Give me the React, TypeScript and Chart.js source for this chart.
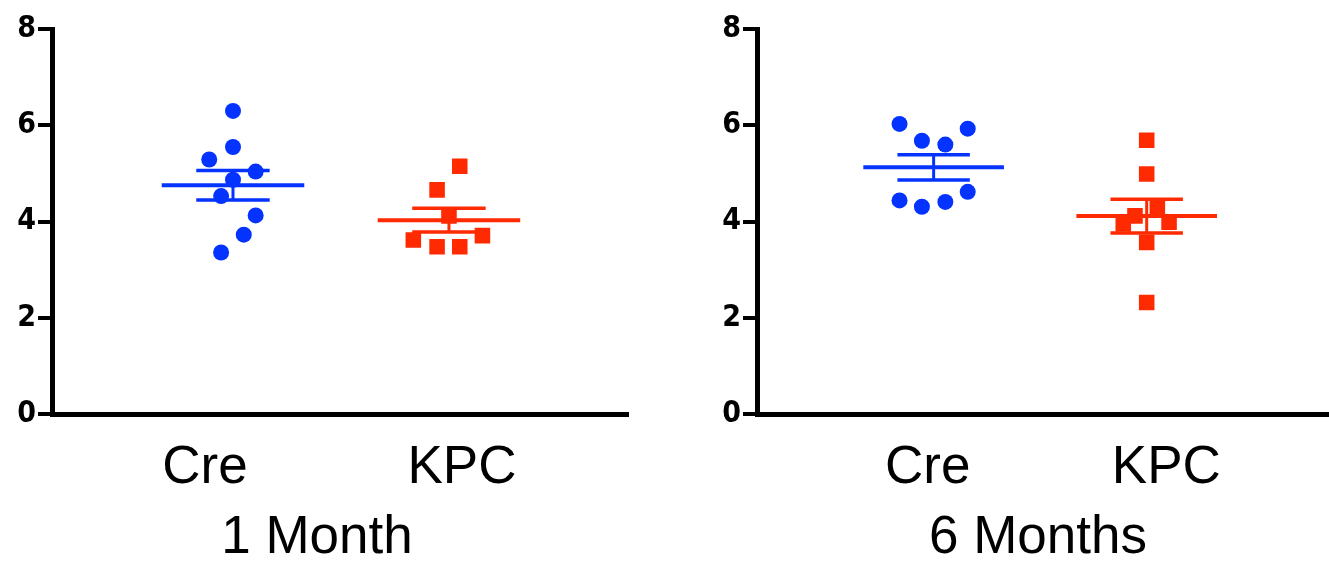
import React, { useEffect, useRef } from 'react';
import { Chart, registerables } from 'chart.js';

Chart.register(...registerables);

// ---------- data ----------
const categories = ['Cre', 'KPC'];
const yTickValues = [0, 2, 4, 6, 8];
const panelTitles = ['1 Month', '6 Months'];

// 1 Month
const m1CreValues = [6.3, 5.55, 5.29, 5.04, 4.87, 4.53, 4.13, 3.73, 3.36];
const m1CreJitter = [0, 0, -0.11, 0.105, 0, -0.055, 0.105, 0.05, -0.055];
const m1KpcValues = [5.15, 4.66, 4.12, 3.62, 3.71, 3.48, 3.48];
const m1KpcJitter = [0.05, -0.055, 0, -0.165, 0.155, -0.055, 0.05];

// 6 Months
const m6CreValues = [6.03, 5.93, 5.68, 5.6, 4.62, 4.44, 4.41, 4.31];
const m6CreJitter = [-0.16, 0.16, -0.055, 0.055, 0.16, -0.16, 0.055, -0.055];
const m6KpcValues = [5.69, 4.99, 4.3, 4.12, 3.95, 3.99, 3.57, 2.32];
const m6KpcJitter = [0, 0, 0.05, -0.055, -0.11, 0.105, 0, 0];

// ---------- styles ----------
const BLUE = '#0433FF';
const RED = '#FF2A00';
const MEAN_HALF = 0.33;
const CAP_HALF = 0.17;
const SANS = "'Liberation Sans', Arial, Helvetica, sans-serif";
const NARROW = "'Liberation Sans Narrow', 'DejaVu Sans Condensed', 'DejaVu Sans', sans-serif";
const H = 563;

function stats(values: number[]) {
  const n = values.length;
  const mean = values.reduce((a, b) => a + b, 0) / n;
  const sd = Math.sqrt(values.reduce((a, v) => a + (v - mean) ** 2, 0) / (n - 1));
  return { mean, sem: sd / Math.sqrt(n) };
}

function groupDatasets(values: number[], jitter: number[], center: number, color: string, style: string, radius: number) {
  const { mean, sem } = stats(values);
  const line = (data: { x: number; y: number }[], width: number) => ({
    data,
    showLine: true,
    borderColor: color,
    borderWidth: width,
    pointRadius: 0,
    borderCapStyle: 'butt',
    order: 2,
  });
  return {
    points: {
      data: values.map((v, i) => ({ x: center + jitter[i], y: v })),
      pointStyle: style,
      pointRadius: radius,
      pointHoverRadius: radius,
      backgroundColor: color,
      pointBackgroundColor: color,
      pointBorderWidth: 0,
      borderWidth: 0,
      showLine: false,
      order: 1,
    },
    lines: [
      line([{ x: center - MEAN_HALF, y: mean }, { x: center + MEAN_HALF, y: mean }], 4),
      line([{ x: center - CAP_HALF, y: mean + sem }, { x: center + CAP_HALF, y: mean + sem }], 3.5),
      line([{ x: center - CAP_HALF, y: mean - sem }, { x: center + CAP_HALF, y: mean - sem }], 3.5),
      line([{ x: center, y: mean - sem }, { x: center, y: mean + sem }], 3),
    ],
  };
}

function makeConfig(p: {
  cre: number[]; creJ: number[]; kpc: number[]; kpcJ: number[];
  title: string; min: number; max: number; labelPos: number[];
  padLeft: number; padRight: number; yWidth: number;
}): any {
  const g1 = groupDatasets(p.cre, p.creJ, 1, BLUE, 'circle', 8);
  const g2 = groupDatasets(p.kpc, p.kpcJ, 2, RED, 'rect', 11);
  return {
    type: 'scatter',
    data: { datasets: [g1.points, g2.points, ...g1.lines, ...g2.lines] },
    options: {
      animation: false,
      responsive: false,
      maintainAspectRatio: false,
      events: [],
      layout: { padding: { left: p.padLeft, right: p.padRight, top: 29, bottom: 0 } },
      plugins: {
        legend: { display: false },
        tooltip: { enabled: false },
        title: {
          display: true,
          text: p.title,
          position: 'bottom',
          color: '#000',
          font: { family: SANS, size: 53, weight: 'normal', lineHeight: 0.9 },
          padding: { top: 0, bottom: 1 },
        },
      },
      scales: {
        x: {
          type: 'linear',
          min: p.min,
          max: p.max,
          afterFit: (s: any) => { s.height = 100; },
          afterBuildTicks: (s: any) => { s.ticks = p.labelPos.map((v) => ({ value: v })); },
          ticks: {
            autoSkip: false,
            maxRotation: 0,
            minRotation: 0,
            padding: 22,
            color: '#000',
            font: { family: SANS, size: 53, weight: 'normal' },
            callback: (_v: any, i: number) => categories[i],
          },
          grid: { display: false, drawTicks: false },
          border: { display: true, color: '#000', width: 5 },
        },
        y: {
          min: 0,
          max: 8,
          afterFit: (s: any) => { s.width = p.yWidth; },
          afterBuildTicks: (s: any) => { s.ticks = yTickValues.map((v) => ({ value: v })); },
          ticks: {
            padding: 2,
            color: '#000',
            font: { family: NARROW, size: 30, weight: 'bold condensed' },
            callback: (v: any) => String(v),
          },
          grid: { display: true, drawOnChartArea: false, drawTicks: true, tickLength: 14, color: '#000', lineWidth: 4 },
          border: { display: true, color: '#000', width: 5 },
        },
      },
    },
  };
}

function Panel({ config, left, width }: { config: any; left: number; width: number }) {
  const ref = useRef<HTMLCanvasElement>(null);
  useEffect(() => {
    const chart = new Chart(ref.current as HTMLCanvasElement, config);
    return () => chart.destroy();
  }, []);
  return (
    <canvas
      ref={ref}
      width={width}
      height={H}
      style={{ position: 'absolute', left, top: 0, width, height: H, display: 'block' }}
    />
  );
}

export default function App() {
  const c1 = makeConfig({
    cre: m1CreValues, creJ: m1CreJitter, kpc: m1KpcValues, kpcJ: m1KpcJitter,
    title: panelTitles[0], min: 0.162, max: 2.829, labelPos: [0.87, 2.06],
    padLeft: 6, padRight: 36, yWidth: 46,
  });
  const c2 = makeConfig({
    cre: m6CreValues, creJ: m6CreJitter, kpc: m6KpcValues, kpcJ: m6KpcJitter,
    title: panelTitles[1], min: 0.171, max: 2.973, labelPos: [0.972, 2.092],
    padLeft: 47, padRight: 0, yWidth: 46,
  });
  return (
    <div style={{ position: 'absolute', left: 0, top: 0, width: 1329, height: H, background: '#fff', overflow: 'hidden' }}>
      <Panel config={c1} left={0} width={664} />
      <Panel config={c2} left={664} width={701} />
    </div>
  );
}
